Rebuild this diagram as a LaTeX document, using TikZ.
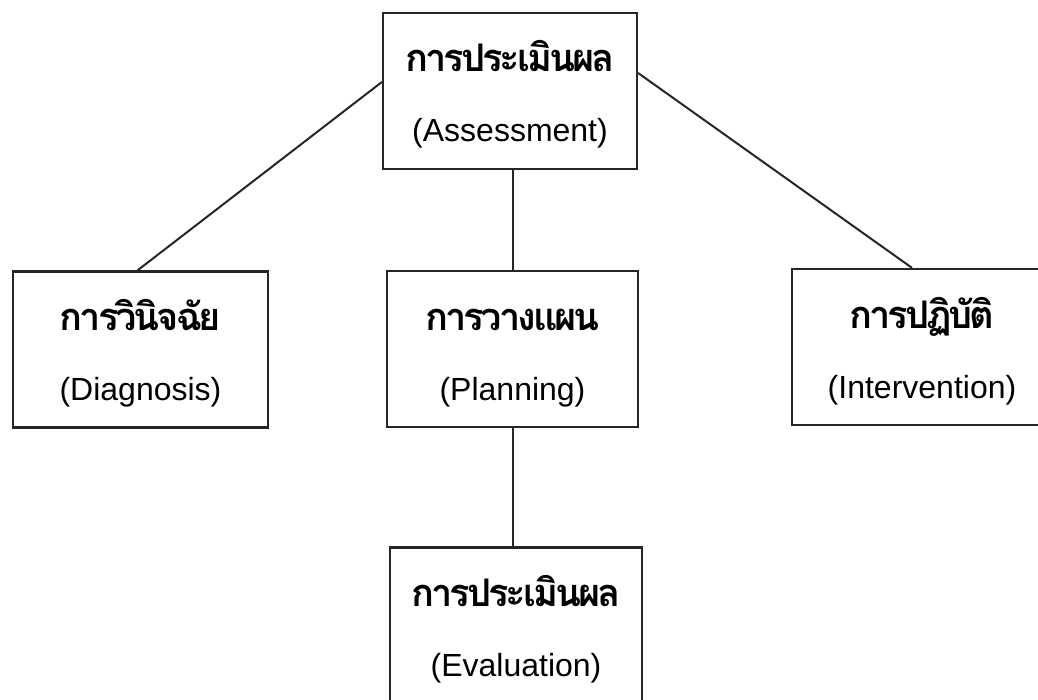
\documentclass[tikz,border=0pt]{standalone}
\usepackage{fontspec}
\setmainfont{Liberation Sans}
\newfontfamily\thaifont[Script=Thai, LetterSpace=-8]{Loma}
\usetikzlibrary{positioning}

\tikzset{
  stagebox/.style={draw=black!85, line width=2.2pt, align=center, inner sep=0pt,
    minimum width=254pt, minimum height=156pt, text height=102pt, text depth=0pt,
    font=\fontsize{32}{70}\selectfont},
  link/.style={draw=black!85, line width=2pt}
}
\newcommand{\stagetext}[2]{{\thaifont\bfseries\fontsize{38}{70}\selectfont #1}\\(#2)}

\begin{document}
\begin{tikzpicture}[x=1pt, y=-1pt]

\useasboundingbox (0,0) rectangle (1038,700);
\clip (0,0) rectangle (1038,700);

\node[stagebox] (assess) at (510,91) {\stagetext{การประเมินผล}{Assessment}};
\node[stagebox, minimum width=255pt] (diag) at (140.5,349.5) {\stagetext{การวินิจฉัย}{Diagnosis}};
\node[stagebox, minimum width=251pt] (plan) at (512.5,349) {\stagetext{การวางแผน}{Planning}};
\node[stagebox, minimum width=260pt] (interv) at (922,347) {\stagetext{การปฏิบัติ}{Intervention}};
\node[stagebox, minimum width=252pt] (evalu) at (516,625.5) {\stagetext{การประเมินผล}{Evaluation}};

\draw[link] ([yshift=9pt]assess.west) -- ([xshift=-3pt]diag.north);
\draw[link] ([yshift=18pt]assess.east) -- ([xshift=-10pt]interv.north);
\draw[link] (assess.south -| plan.north) -- (plan.north);
\draw[link] (plan.south) -- (plan.south |- evalu.north);

\end{tikzpicture}
\end{document}
